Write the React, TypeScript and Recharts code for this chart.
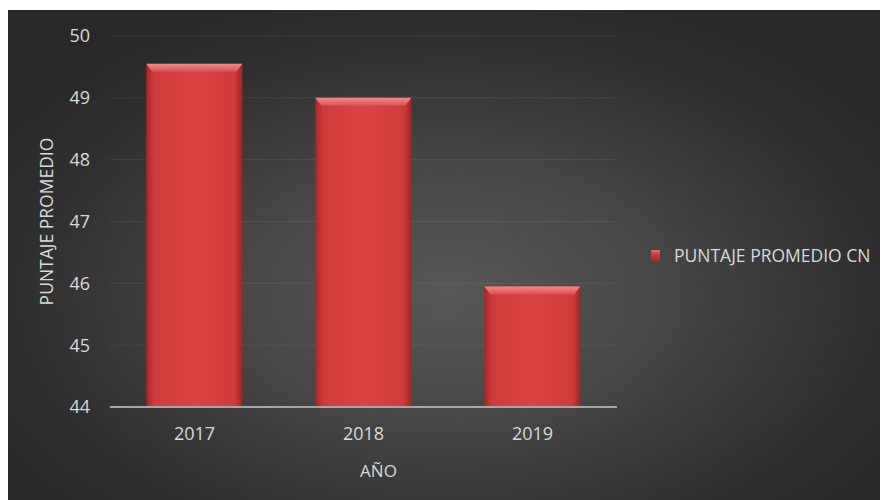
import { BarChart, Bar, XAxis, YAxis, CartesianGrid, Legend } from "recharts";

const years = ["2017", "2018", "2019"];
const puntaje = [49.55, 49.0, 45.95];
const yTicks = [44, 45, 46, 47, 48, 49, 50];

const data = years.map((year, i) => ({ year, cn: puntaje[i] }));

const FONT = "'Open Sans', sans-serif";
const TEXT = "#d9d9d9";

function BevelBar(props: any) {
  const { x, y, width, height } = props;
  if (!height || height <= 0) return null;
  const b = Math.min(8, height / 2);
  return (
    <g>
      <rect x={x} y={y} width={width} height={height} fill="url(#barBody)" />
      <polygon
        points={`${x},${y} ${x + width},${y} ${x + width - 6},${y + b} ${x + 6},${y + b}`}
        fill="url(#barTop)"
      />
    </g>
  );
}

function LegendBox() {
  return (
    <div
      style={{
        display: "flex",
        alignItems: "center",
        whiteSpace: "nowrap",
        fontFamily: FONT,
        fontSize: 17.5,
        color: TEXT,
      }}
    >
      <span
        style={{
          display: "inline-block",
          width: 9,
          height: 11,
          marginRight: 14,
          background: "linear-gradient(180deg, #e86a6a 0%, #d43c3c 40%, #a82828 100%)",
        }}
      />
      PUNTAJE PROMEDIO CN
    </div>
  );
}

export default function App() {
  return (
    <div
      style={{
        width: 880,
        height: 490,
        marginTop: 2,
        background:
          "radial-gradient(ellipse 60% 65% at 50% 58%, #575757 0%, #444444 45%, #2f2f2f 80%, #282828 100%)",
      }}
    >
      <BarChart
        width={880}
        height={490}
        data={data}
        margin={{ top: 26, right: 271, left: 0, bottom: 63 }}
        barCategoryGap="21.5%"
      >
        <defs>
          <linearGradient id="barBody" x1="0" y1="0" x2="1" y2="0">
            <stop offset="0%" stopColor="#a52626" />
            <stop offset="8%" stopColor="#cf3a3a" />
            <stop offset="50%" stopColor="#da4343" />
            <stop offset="92%" stopColor="#cf3a3a" />
            <stop offset="100%" stopColor="#a22424" />
          </linearGradient>
          <linearGradient id="barTop" x1="0" y1="0" x2="0" y2="1">
            <stop offset="0%" stopColor="#f08a8a" />
            <stop offset="100%" stopColor="#de5050" />
          </linearGradient>
        </defs>
        <CartesianGrid vertical={false} stroke="rgba(255,255,255,0.07)" />
        <XAxis
          dataKey="year"
          height={30}
          axisLine={{ stroke: "#a6a6a6", strokeWidth: 2 }}
          tickLine={false}
          tickSize={0}
          tickMargin={20}
          tick={{ fill: TEXT, fontSize: 18, fontFamily: FONT }}
          label={{
            content: ({ viewBox }: any) => (
              <text
                x={viewBox.x + viewBox.width / 2 + 15}
                y={viewBox.y + 70}
                textAnchor="middle"
                fill={TEXT}
                fontSize={17}
                fontFamily={FONT}
              >
                AÑO
              </text>
            ),
          }}
        />
        <YAxis
          width={102}
          domain={[44, 50]}
          ticks={yTicks}
          axisLine={false}
          tickLine={false}
          tickSize={0}
          tickMargin={20}
          tick={{ fill: TEXT, fontSize: 18, fontFamily: FONT }}
          label={{
            value: "PUNTAJE PROMEDIO",
            angle: -90,
            position: "insideLeft",
            offset: 39,
            fill: TEXT,
            fontSize: 17.5,
            fontFamily: FONT,
            style: { textAnchor: "middle" },
          }}
        />
        <Legend
          content={() => <LegendBox />}
          wrapperStyle={{ position: "absolute", left: 643, top: 233, width: 236, height: 0, overflow: "visible" }}
        />
        <Bar dataKey="cn" name="PUNTAJE PROMEDIO CN" shape={<BevelBar />} isAnimationActive={false} />
      </BarChart>
    </div>
  );
}
